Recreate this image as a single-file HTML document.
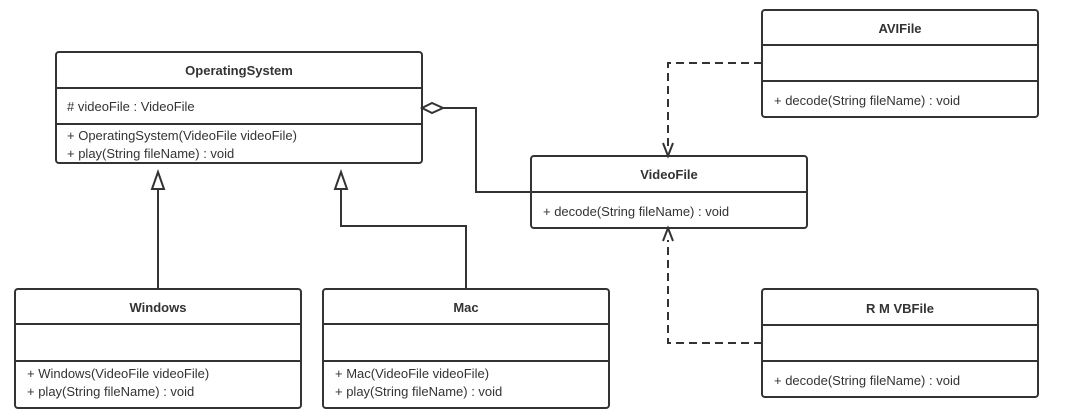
<!DOCTYPE html>
<html><head><meta charset="utf-8"><style>
body{margin:0;background:#fff;}
svg text{font-family:"Liberation Sans",sans-serif;font-size:13px;fill:#333;}
.t{font-weight:bold;text-anchor:middle;}
</style></head><body>
<svg width="1079" height="415" xmlns="http://www.w3.org/2000/svg">
<g fill="none" stroke="#333" stroke-width="2">
<rect x="56" y="52" width="366" height="111" rx="3"/>
<line x1="56" y1="88" x2="422" y2="88"/><line x1="56" y1="124" x2="422" y2="124"/>
<rect x="15" y="289" width="286" height="119" rx="3"/>
<line x1="15" y1="324" x2="301" y2="324"/><line x1="15" y1="361" x2="301" y2="361"/>
<rect x="323" y="289" width="286" height="119" rx="3"/>
<line x1="323" y1="324" x2="609" y2="324"/><line x1="323" y1="361" x2="609" y2="361"/>
<rect x="531" y="156" width="276" height="72" rx="3"/>
<line x1="531" y1="192" x2="807" y2="192"/>
<rect x="762" y="10" width="276" height="107" rx="3"/>
<line x1="762" y1="45" x2="1038" y2="45"/><line x1="762" y1="81" x2="1038" y2="81"/>
<rect x="762" y="289" width="276" height="108" rx="3"/>
<line x1="762" y1="325" x2="1038" y2="325"/><line x1="762" y1="361" x2="1038" y2="361"/>
<polyline points="158,289 158,189"/>
<polygon points="158,172 152,189 164,189"/>
<polyline points="466,289 466,226 341,226 341,189"/>
<polygon points="341,172 335,189 347,189"/>
<polyline points="443,108 476,108 476,192 531,192"/>
<polygon points="422,108 432,103 443,108 432,113" fill="#fff"/>
<polyline points="762,63 668,63 668,146" stroke-dasharray="8,5"/>
<polyline points="663,143 668,156 673,143"/>
<polyline points="762,343 668,343 668,240" stroke-dasharray="8,5"/>
<polyline points="663,241 668,228 673,241"/>
</g>
<text class="t" x="239" y="75">OperatingSystem</text>
<text x="67" y="111"># videoFile : VideoFile</text>
<text x="67" y="140">+ OperatingSystem(VideoFile videoFile)</text>
<text x="67" y="158">+ play(String fileName) : void</text>
<text class="t" x="158" y="312">Windows</text>
<text x="27" y="378">+ Windows(VideoFile videoFile)</text>
<text x="27" y="396">+ play(String fileName) : void</text>
<text class="t" x="466" y="312">Mac</text>
<text x="335" y="378">+ Mac(VideoFile videoFile)</text>
<text x="335" y="396">+ play(String fileName) : void</text>
<text class="t" x="669" y="179">VideoFile</text>
<text x="543" y="216">+ decode(String fileName) : void</text>
<text class="t" x="900" y="33">AVIFile</text>
<text x="774" y="105">+ decode(String fileName) : void</text>
<text class="t" x="900" y="313">R M VBFile</text>
<text x="774" y="385">+ decode(String fileName) : void</text>
</svg>
</body></html>
